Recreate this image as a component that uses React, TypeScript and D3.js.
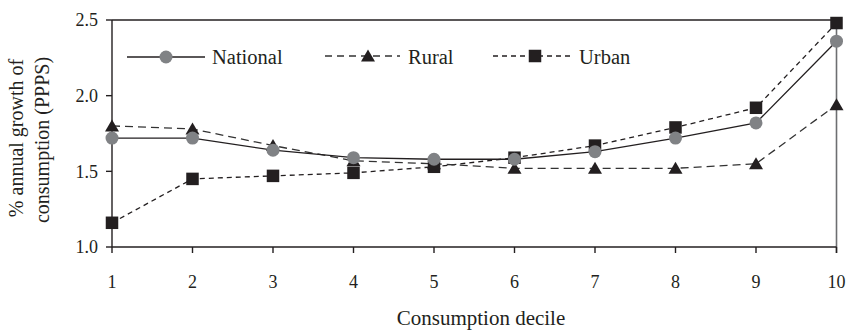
import React from "react";
import * as d3 from "d3";

const deciles = [1, 2, 3, 4, 5, 6, 7, 8, 9, 10];
const national = [1.72, 1.72, 1.64, 1.59, 1.58, 1.58, 1.63, 1.72, 1.82, 2.36];
const rural = [1.8, 1.78, 1.67, 1.57, 1.55, 1.52, 1.52, 1.52, 1.55, 1.94];
const urban = [1.16, 1.45, 1.47, 1.49, 1.53, 1.59, 1.67, 1.79, 1.92, 2.48];
const yTicks = [1.0, 1.5, 2.0, 2.5];
const yTitle = ["% annual growth of", "consumption (PPPS)"];
const xTitle = "Consumption decile";
const legendLabels = ["National", "Rural", "Urban"];

const W = 851;
const H = 331;
const FONT = "'Liberation Serif', 'Times New Roman', serif";
const TXT = "#231f20";

export default function App() {
  const x = d3.scaleLinear().domain([1, 10]).range([112, 836.5]);
  const y = d3.scaleLinear().domain([1, 2.5]).range([247, 20]);
  const line = d3
    .line<number>()
    .x((_, i) => x(deciles[i]))
    .y((d) => y(d));

  const sq = 12.5;
  const triPath = (cx: number, cy: number) =>
    `M${cx},${cy - 6.5}L${cx + 7},${cy + 5.5}L${cx - 7},${cy + 5.5}Z`;

  const legY = 57;
  return (
    <svg
      width={W}
      height={H}
      style={{ position: "absolute", left: 0, top: 0, background: "#fff" }}
      fontFamily={FONT}
    >
      {/* frame */}
      <line x1={x(1)} x2={x(10)} y1={y(2.5)} y2={y(2.5)} stroke={TXT} strokeWidth={1.4} />
      <line x1={x(10)} x2={x(10)} y1={y(2.5)} y2={y(1) + 6} stroke="#6d6e71" strokeWidth={1.6} />
      <line x1={x(1)} x2={x(1)} y1={y(2.5)} y2={y(1)} stroke={TXT} strokeWidth={1.4} />
      <line x1={x(1)} x2={x(10)} y1={y(1)} y2={y(1)} stroke={TXT} strokeWidth={1.4} />
      {yTicks.map((t) => (
        <g key={t}>
          <line x1={x(1) - 6} x2={x(1)} y1={y(t)} y2={y(t)} stroke={TXT} strokeWidth={1.4} />
          <text x={98} y={y(t)} dy="0.35em" textAnchor="end" fontSize={18} fill={TXT}>
            {t.toFixed(1)}
          </text>
        </g>
      ))}
      {deciles.map((d) => (
        <g key={d}>
          <line x1={x(d)} x2={x(d)} y1={y(1)} y2={y(1) + 6} stroke={TXT} strokeWidth={1.4} />
          <text x={x(d)} y={288} textAnchor="middle" fontSize={18} fill={TXT}>
            {d}
          </text>
        </g>
      ))}
      {/* titles */}
      <text x={481} y={325} textAnchor="middle" fontSize={21} fill={TXT}>
        {xTitle}
      </text>
      <text transform="translate(23,138) rotate(-90)" textAnchor="middle" fontSize={20} fill={TXT}>
        {yTitle[0]}
      </text>
      <text transform="translate(49,140) rotate(-90)" textAnchor="middle" fontSize={20} fill={TXT}>
        {yTitle[1]}
      </text>

      {/* lines */}
      <path d={line(urban) || ""} fill="none" stroke={TXT} strokeWidth={1.3} strokeDasharray="5,4" />
      <path d={line(rural) || ""} fill="none" stroke="#333" strokeWidth={1.3} strokeDasharray="8,5" />
      <path d={line(national) || ""} fill="none" stroke={TXT} strokeWidth={1.3} />

      {/* markers */}
      {urban.map((v, i) => (
        <rect key={"u" + i} x={x(deciles[i]) - sq / 2} y={y(v) - sq / 2} width={sq} height={sq} fill={TXT} />
      ))}
      {rural.map((v, i) => (
        <path key={"r" + i} d={triPath(x(deciles[i]), y(v))} fill={TXT} />
      ))}
      {national.map((v, i) => (
        <circle key={"n" + i} cx={x(deciles[i])} cy={y(v)} r={6.5} fill="#808285" />
      ))}

      {/* legend */}
      <line x1={127} x2={205} y1={legY} y2={legY} stroke={TXT} strokeWidth={1.3} />
      <circle cx={166} cy={legY} r={6.5} fill="#808285" />
      <text x={212} y={legY + 7} fontSize={20.5} fill={TXT}>
        {legendLabels[0]}
      </text>

      <line x1={325} x2={400} y1={legY - 1} y2={legY - 1} stroke="#333" strokeWidth={1.3} strokeDasharray="7,5" />
      <path d={triPath(368, legY - 1)} fill={TXT} />
      <text x={408} y={legY + 7} fontSize={20.5} fill={TXT}>
        {legendLabels[1]}
      </text>

      <line x1={493} x2={573} y1={legY - 1} y2={legY - 1} stroke={TXT} strokeWidth={1.3} strokeDasharray="5,4" />
      <rect x={535 - sq / 2} y={legY - 1 - sq / 2} width={sq} height={sq} fill={TXT} />
      <text x={579} y={legY + 7} fontSize={20.5} fill={TXT}>
        {legendLabels[2]}
      </text>
    </svg>
  );
}
